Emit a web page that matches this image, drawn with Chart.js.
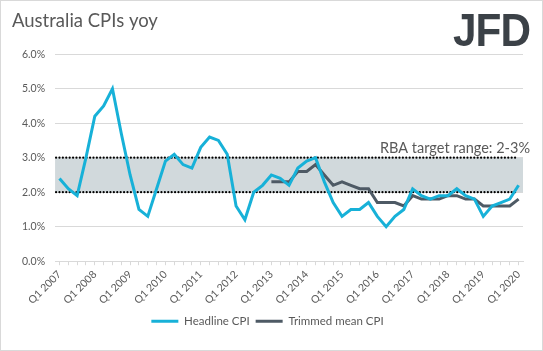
<!DOCTYPE html>
<html>
<head>
<meta charset="utf-8">
<script src="https://cdn.jsdelivr.net/npm/chart.js@4.4.1/dist/chart.umd.min.js"></script>
<style>
  body { margin: 0; background: #fff; }
  #wrap { position: relative; width: 541px; height: 349px; border: 1px solid #d9d9d9; }
  #logo { position: absolute; left: 452px; top: 2px; font: bold 46px "Liberation Sans"; color: #3b4147;
          transform: scaleX(0.92); transform-origin: left top; letter-spacing: -1px; }
</style>
</head>
<body>
<div id="wrap">
  <canvas id="cpi" width="541" height="349"></canvas>
  <div id="logo">JFD</div>
</div>
<script>
// quarterly, Q1 2007 .. Q1 2020
const quarters = []
for (let yr = 2007; yr <= 2020; yr++)
  for (let q = 1; q <= 4; q++)
    if (yr < 2020 || q === 1) quarters.push(`Q${q} ${yr}`)

const headline = [
  2.4, 2.1, 1.9, 3.0,
  4.2, 4.5, 5.0, 3.7,
  2.5, 1.5, 1.3, 2.1,
  2.9, 3.1, 2.8, 2.7,
  3.3, 3.6, 3.5, 3.1,
  1.6, 1.2, 2.0, 2.2,
  2.5, 2.4, 2.2, 2.7,
  2.9, 3.0, 2.3, 1.7,
  1.3, 1.5, 1.5, 1.7,
  1.3, 1.0, 1.3, 1.5,
  2.1, 1.9, 1.8, 1.9,
  1.9, 2.1, 1.9, 1.8,
  1.3, 1.6, 1.7, 1.8,
  2.2,
]

const trimmed = [
  null, null, null, null,
  null, null, null, null,
  null, null, null, null,
  null, null, null, null,
  null, null, null, null,
  null, null, null, null,
  2.3, 2.3, 2.3, 2.6,
  2.6, 2.8, 2.5, 2.2,
  2.3, 2.2, 2.1, 2.1,
  1.7, 1.7, 1.7, 1.6,
  1.9, 1.8, 1.8, 1.8,
  1.9, 1.9, 1.8, 1.8,
  1.6, 1.6, 1.6, 1.6,
  1.8,
]

const bandLow = 2
const bandHigh = 3
const bandLabel = 'RBA target range: 2-3%'

const textColor = '#595959'
const gridColor = '#d9d9d9'

const targetBand = {
  id: 'targetBand',
  beforeDatasetsDraw(chart) {
    const { ctx, chartArea: a, scales: { y } } = chart
    const top = y.getPixelForValue(bandHigh)
    const bot = y.getPixelForValue(bandLow)
    ctx.save()
    ctx.fillStyle = '#d1d9dc'
    ctx.fillRect(a.left, top, a.right - a.left, bot - top)
    ctx.strokeStyle = '#000'
    ctx.lineWidth = 2.2
    ctx.lineCap = 'round'
    ctx.setLineDash([0, 3.4])
    for (const yy of [top, bot]) {
      ctx.beginPath()
      ctx.moveTo(a.left + 1, yy)
      ctx.lineTo(a.right - 6, yy)
      ctx.stroke()
    }
    ctx.fillStyle = textColor
    ctx.font = '14.5px Lato'
    ctx.textAlign = 'right'
    ctx.textBaseline = 'bottom'
    ctx.fillText(bandLabel, a.right + 7, top - 2)
    ctx.restore()
  },
}

new Chart(document.getElementById('cpi'), {
  type: 'line',
  data: {
    labels: quarters,
    datasets: [
      {
        label: 'Headline CPI',
        data: headline,
        borderColor: '#17b1d8',
        backgroundColor: '#17b1d8',
        borderWidth: 3,
        pointRadius: 0,
      },
      {
        label: 'Trimmed mean CPI',
        data: trimmed,
        borderColor: '#4e5a65',
        backgroundColor: '#4e5a65',
        borderWidth: 3,
        pointRadius: 0,
      },
    ],
  },
  options: {
    responsive: false,
    animation: false,
    layout: { padding: { left: 11, right: 19, top: 5, bottom: 13 } },
    plugins: {
      title: {
        display: true,
        text: 'Australia CPIs yoy',
        align: 'start',
        color: textColor,
        font: { family: 'Lato', size: 18.5, weight: 'normal' },
        padding: { top: 4, bottom: 22 },
      },
      legend: {
        position: 'bottom',
        labels: {
          usePointStyle: true,
          pointStyle: 'line',
          pointStyleWidth: 27,
          color: textColor,
          font: { family: 'Lato', size: 11.5 },
          padding: 6,
        },
      },
      tooltip: { enabled: false },
    },
    scales: {
      x: {
        offset: true,
        grid: { drawOnChartArea: false, tickLength: 4, color: gridColor },
        border: { color: gridColor },
        ticks: {
          autoSkip: false,
          maxRotation: 45,
          minRotation: 45,
          color: textColor,
          font: { family: 'Lato', size: 10.5 },
          callback: (v, i) => (i % 4 === 0 ? quarters[i] : ''),
        },
      },
      y: {
        min: 0,
        max: 6,
        grid: { color: gridColor, drawTicks: false },
        border: { display: false },
        ticks: {
          stepSize: 1,
          padding: 10,
          color: textColor,
          font: { family: 'Lato', size: 10.5 },
          callback: v => v.toFixed(1) + '%',
        },
      },
    },
  },
  plugins: [targetBand],
})
</script>
</body>
</html>
